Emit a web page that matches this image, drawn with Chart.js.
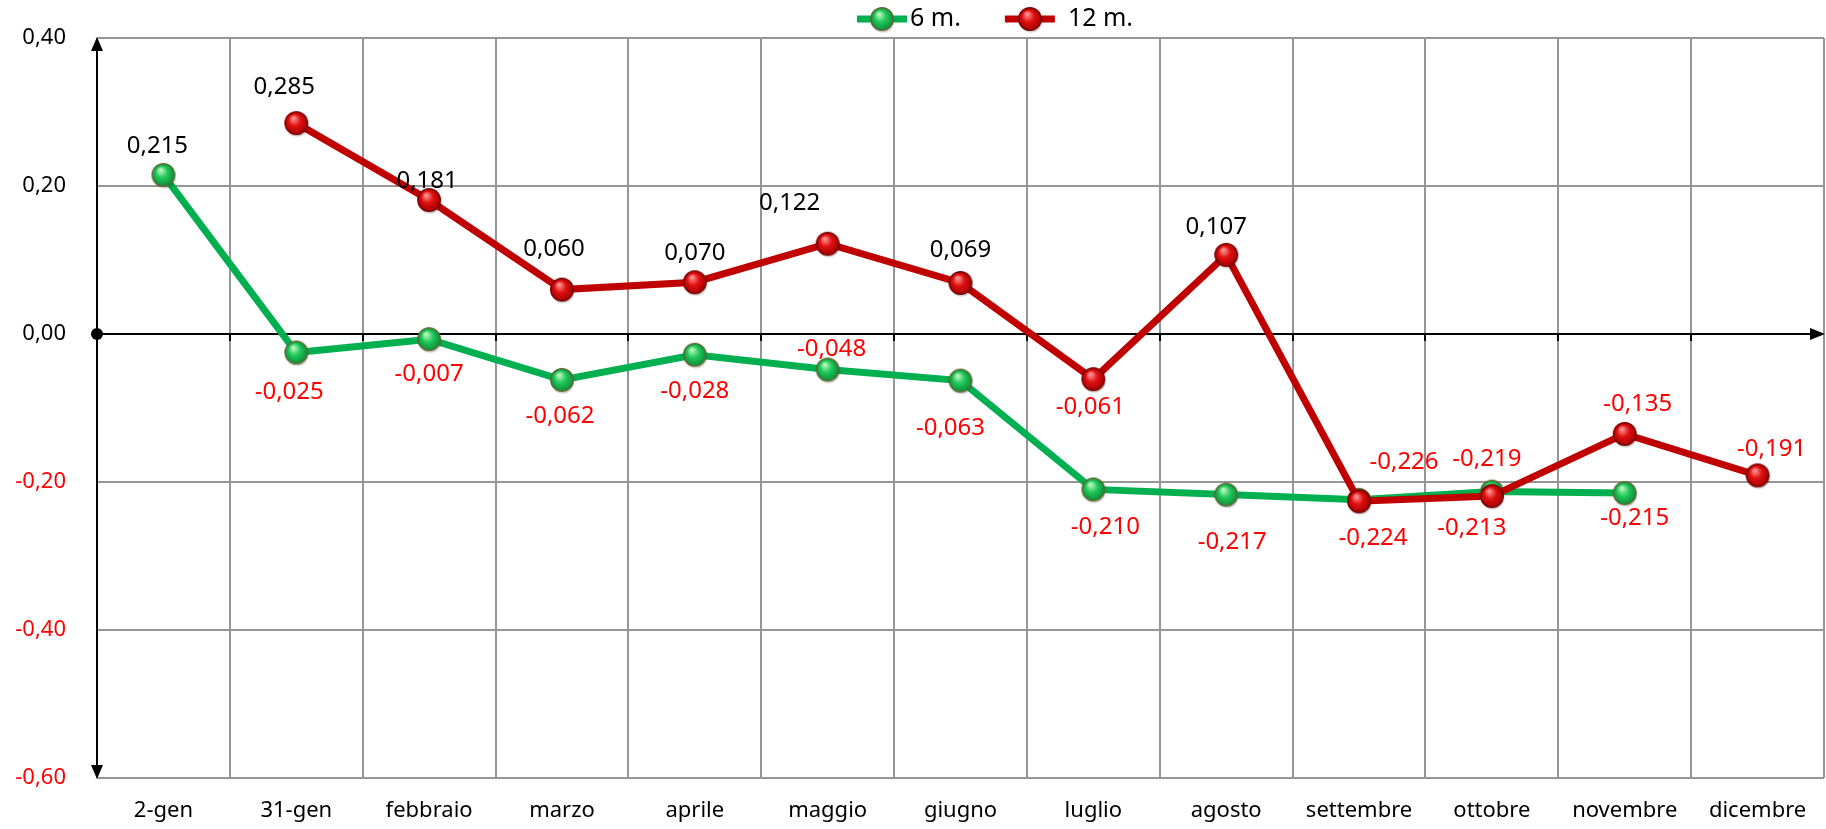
<!DOCTYPE html>
<html>
<head>
<meta charset="utf-8">
<script src="https://cdn.jsdelivr.net/npm/chart.js@4/dist/chart.umd.min.js"></script>
<style>
  body { margin: 0; background: #fff; }
</style>
</head>
<body>
<canvas id="grafico" width="1826" height="829"></canvas>
<script>
// dati
var mesi = ['2-gen', '31-gen', 'febbraio', 'marzo', 'aprile', 'maggio', 'giugno', 'luglio', 'agosto', 'settembre', 'ottobre', 'novembre', 'dicembre'];
var sei = [0.215, -0.025, -0.007, -0.062, -0.028, -0.048, -0.063, -0.210, -0.217, -0.224, -0.213, -0.215, null];
var dodici = [null, 0.285, 0.181, 0.060, 0.070, 0.122, 0.069, -0.061, 0.107, -0.226, -0.219, -0.135, -0.191];
var tickY = [-0.6, -0.4, -0.2, 0, 0.2, 0.4];

// spostamento delle etichette rispetto al punto (come nell'originale)
var dxSei = [-6, -7, 0, -2, 0, 4, -10, 12, 6, 14, -20, 10, 0];
var dySei = [-29, 40, 35, 36, 36, -20, 48, 38, 48, 38, 37, 25, 0];
var dxDodici = [0, -12, -2, -8, 0, -38, 0, -3, -10, 45, -5, 13, 14];
var dyDodici = [0, -36, -19, -40, -29, -41, -33, 28, -28, -39, -37, -30, -26];

var FONT = '"Noto Sans", "DejaVu Sans", sans-serif';

function virgola(v, d) {
    return v.toFixed(d).replace('.', ',');
}

// pallina "3D" per i marker
function pallina(chiaro, medio, scuro, bordo) {
    var c = document.createElement('canvas');
    c.width = 30; c.height = 30;
    var g = c.getContext('2d');
    // ombra
    g.beginPath();
    g.arc(16, 17, 11.5, 0, Math.PI * 2);
    g.fillStyle = 'rgba(0,0,0,0.18)';
    g.fill();
    var grad = g.createRadialGradient(12, 10, 1, 15, 15, 12);
    grad.addColorStop(0, chiaro);
    grad.addColorStop(0.45, medio);
    grad.addColorStop(1, scuro);
    g.beginPath();
    g.arc(15, 15, 11.2, 0, Math.PI * 2);
    g.fillStyle = grad;
    g.fill();
    g.lineWidth = 1.5;
    g.strokeStyle = bordo;
    g.stroke();
    return c;
}

var pallaVerde = pallina('#b8f5b8', '#1ec85a', '#0a8a36', '#5d6b35');
var pallaRossa = pallina('#ff9090', '#e01010', '#a00000', '#7a0000');

// assi con frecce, legenda ed etichette
var decorazioni = {
    id: 'decorazioni',
    beforeDatasetsDraw: function (chart) {
        var ctx = chart.ctx, a = chart.chartArea;
        var y0 = chart.scales.y.getPixelForValue(0);
        var sx = chart.scales.x;
        ctx.save();
        ctx.strokeStyle = '#000';
        ctx.fillStyle = '#000';
        ctx.lineWidth = 2;
        // asse x sullo zero
        ctx.beginPath();
        ctx.moveTo(a.left, y0);
        ctx.lineTo(a.right - 10, y0);
        ctx.stroke();
        ctx.beginPath();
        ctx.moveTo(a.right + 1, y0);
        ctx.lineTo(a.right - 14, y0 - 6);
        ctx.lineTo(a.right - 14, y0 + 6);
        ctx.closePath();
        ctx.fill();
        for (var i = 1; i < mesi.length; i++) {
            var tx = Math.round(sx.getPixelForValue(i - 0.5));
            ctx.beginPath();
            ctx.moveTo(tx, y0);
            ctx.lineTo(tx, y0 + 7);
            ctx.stroke();
        }
        // asse y
        ctx.beginPath();
        ctx.moveTo(a.left, a.top + 10);
        ctx.lineTo(a.left, a.bottom - 10);
        ctx.stroke();
        ctx.beginPath();
        ctx.moveTo(a.left, a.top - 1);
        ctx.lineTo(a.left - 6, a.top + 13);
        ctx.lineTo(a.left + 6, a.top + 13);
        ctx.closePath();
        ctx.fill();
        ctx.beginPath();
        ctx.moveTo(a.left, a.bottom + 1);
        ctx.lineTo(a.left - 6, a.bottom - 13);
        ctx.lineTo(a.left + 6, a.bottom - 13);
        ctx.closePath();
        ctx.fill();
        ctx.beginPath();
        ctx.arc(a.left, y0, 6, 0, Math.PI * 2);
        ctx.fill();
        ctx.restore();
    },
    afterDatasetsDraw: function (chart) {
        var ctx = chart.ctx;
        ctx.save();
        ctx.font = '24px ' + FONT;
        ctx.textAlign = 'center';
        ctx.textBaseline = 'middle';
        chart.data.datasets.forEach(function (ds, di) {
            var meta = chart.getDatasetMeta(di);
            var dx = di === 0 ? dxSei : dxDodici;
            var dy = di === 0 ? dySei : dyDodici;
            meta.data.forEach(function (pt, i) {
                var v = ds.data[i];
                if (v === null) return;
                ctx.fillStyle = v < 0 ? '#ff0000' : '#000000';
                ctx.fillText(virgola(v, 3), pt.x + dx[i], pt.y + dy[i]);
            });
        });
        ctx.restore();
    },
    afterDraw: function (chart) {
        // legenda con linea e pallina
        var ctx = chart.ctx, a = chart.chartArea;
        ctx.save();
        ctx.font = '25px ' + FONT;
        ctx.textBaseline = 'middle';
        var voci = chart.data.datasets;
        var x = 857, y = 19;
        voci.forEach(function (d, i) {
            ctx.strokeStyle = d.borderColor;
            ctx.lineWidth = 7;
            ctx.beginPath();
            ctx.moveTo(x, y);
            ctx.lineTo(x + 50, y);
            ctx.stroke();
            ctx.drawImage(d.pointStyle, x + 25 - 15, y - 15);
            ctx.fillStyle = '#000';
            var tx = x + 53 + (i === 1 ? 10 : 0);
            ctx.fillText(d.label, tx, y);
            x = tx + ctx.measureText(d.label).width + 44;
        });
        ctx.restore();
    }
};

function creaGrafico() {
    var ctx = document.getElementById('grafico').getContext('2d');
    new Chart(ctx, {
        type: 'line',
        data: {
            labels: mesi,
            datasets: [{
                label: '6 m.',
                data: sei,
                borderColor: '#00b050',
                borderWidth: 7,
                pointStyle: pallaVerde,
                pointRadius: 11,
                order: 2
            }, {
                label: '12 m.',
                data: dodici,
                borderColor: '#c00000',
                borderWidth: 7,
                pointStyle: pallaRossa,
                pointRadius: 11,
                order: 1
            }]
        },
        options: {
            responsive: false,
            animation: false,
            spanGaps: false,
            layout: { autoPadding: false, padding: { top: 38, right: 2, left: 0, bottom: 0 } },
            plugins: {
                legend: { display: false },
                tooltip: { enabled: false }
            },
            scales: {
                x: {
                    offset: true,
                    grid: { offset: true, color: '#969696', lineWidth: 2, drawTicks: false },
                    border: { display: false },
                    ticks: { color: '#000', font: { family: FONT, size: 22 }, padding: 20, maxRotation: 0, autoSkip: false },
                    afterFit: function (s) {
                        s.height = 51;
                        s.paddingLeft = 0;
                        s.paddingRight = 0;
                    }
                },
                y: {
                    min: tickY[0],
                    max: tickY[tickY.length - 1],
                    afterBuildTicks: function (s) { s.ticks = tickY.map(function (v) { return { value: v }; }); },
                    grid: { color: '#969696', lineWidth: 2, drawTicks: false },
                    border: { display: false },
                    ticks: {
                        font: { family: FONT, size: 22 },
                        padding: 31,
                        color: function (c) { return c.tick.value < -1e-9 ? '#ff0000' : '#000000'; },
                        callback: function (v) { return virgola(v, 2); }
                    },
                    afterFit: function (s) {
                        s.width = 97;
                        s.paddingTop = 0;
                        s.paddingBottom = 0;
                    }
                }
            }
        },
        plugins: [decorazioni]
    });
}

creaGrafico();
</script>
</body>
</html>
